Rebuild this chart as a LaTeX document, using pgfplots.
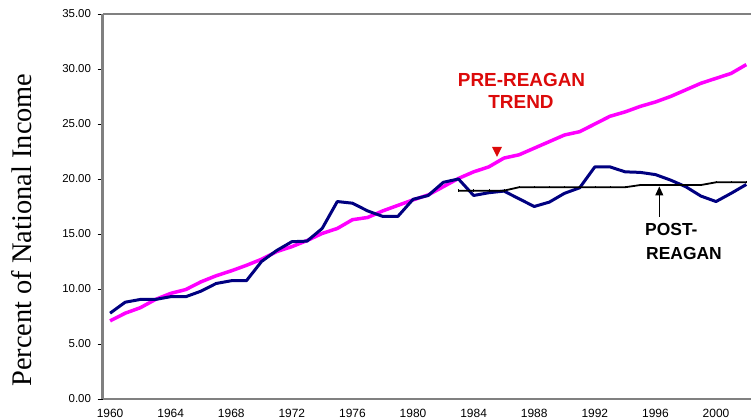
\documentclass[border=0pt]{standalone}
\usepackage{pgfplots}
\pgfplotsset{compat=1.18}
\usepackage{fontspec}
\setmainfont{Liberation Sans}
\newfontfamily\serifl{Liberation Serif}
\usetikzlibrary{arrows.meta}
\definecolor{navyb}{RGB}{0,0,128}
\definecolor{magl}{RGB}{255,0,255}
\definecolor{axgray}{RGB}{128,128,128}
\definecolor{annred}{RGB}{220,10,10}

\begin{document}
\begin{tikzpicture}
\begin{axis}[
  scale only axis,
  width=648.5bp, height=385bp,
  xmin=1959.5, xmax=2002.31,
  ymin=0, ymax=35,
  axis x line=box, axis y line=left,
  axis line style={-, draw=axgray, line width=2.5bp},
  xtick pos=left, ytick pos=left,
  tick align=outside,
  xtick={1960,1964,...,2000},
  minor xtick={1959.5,1960.5,...,2002.5},
  xtick style={draw=none},
  minor x tick style={black, line width=0.8bp},
  minor tick length=4bp,
  ytick={0,5,...,35},
  y tick style={black, line width=0.8bp},
  major tick length=5bp,
  /pgf/number format/assume math mode=true,
  xticklabel={\fontsize{12}{13}\selectfont\pgfmathprintnumber[1000 sep={}]{\tick}},
  yticklabel={\fontsize{11.5}{13}\selectfont\pgfmathprintnumber[fixed, fixed zerofill, precision=2]{\tick}},
  xticklabel style={yshift=-1.5bp},
  yticklabel style={xshift=-3bp},
  clip=true,
]
\coordinate (SW) at (rel axis cs:0,0);
\coordinate (NE) at (rel axis cs:1,1);

% Pre-Reagan trend (magenta)
\addplot[magl, line width=3.5bp, line join=round] coordinates {
(1960,7.1) (1961,7.8) (1962,8.3) (1963,9.05) (1964,9.6) (1965,9.95)
(1966,10.65) (1967,11.2) (1968,11.65) (1969,12.15) (1970,12.7) (1971,13.4)
(1972,13.85) (1973,14.4) (1974,15.05) (1975,15.5) (1976,16.3) (1977,16.5)
(1978,17.1) (1979,17.6) (1980,18.1) (1981,18.55) (1982,19.3) (1983,20.05)
(1984,20.65) (1985,21.1) (1986,21.9) (1987,22.2) (1988,22.8) (1989,23.4)
(1990,24.0) (1991,24.3) (1992,25.0) (1993,25.7) (1994,26.1) (1995,26.6)
(1996,27.0) (1997,27.5) (1998,28.1) (1999,28.7) (2000,29.15) (2001,29.6)
(2002,30.4)
};

% Actual (navy)
\addplot[navyb, line width=3bp, line join=round] coordinates {
(1960,7.8) (1961,8.8) (1962,9.05) (1963,9.05) (1964,9.3) (1965,9.3)
(1966,9.8) (1967,10.5) (1968,10.75) (1969,10.75) (1970,12.5) (1971,13.5)
(1972,14.3) (1973,14.35) (1974,15.5) (1975,17.95) (1976,17.8) (1977,17.1)
(1978,16.6) (1979,16.6) (1980,18.15) (1981,18.5) (1982,19.7) (1983,20.0)
(1984,18.5) (1985,18.75) (1986,18.9) (1987,18.2) (1988,17.5) (1989,17.9)
(1990,18.7) (1991,19.2) (1992,21.1) (1993,21.1) (1994,20.65) (1995,20.6)
(1996,20.4) (1997,19.9) (1998,19.3) (1999,18.45) (2000,17.95) (2001,18.7)
(2002,19.5)
};

% Post-Reagan (black)
\addplot[black, line width=1.8bp, mark=|, mark size=1.2bp, mark options={line width=0.5bp}] coordinates {
(1983,18.94) (1984,18.94) (1985,18.94) (1986,18.94) (1987,19.25) (1988,19.25)
(1989,19.25) (1990,19.25) (1991,19.25) (1992,19.25) (1993,19.25) (1994,19.25)
(1995,19.45) (1996,19.45) (1997,19.45) (1998,19.45) (1999,19.45) (2000,19.7)
(2001,19.7) (2002,19.7)
};
\end{axis}

% annotations (offsets in px from axis lower-left corner at px (102.5,399))
\node[anchor=base, text=annred, font=\bfseries\fontsize{19}{22}\selectfont, inner sep=0pt]
  at ([shift={(419bp,312.3bp)}]SW) {PRE-REAGAN};
\node[anchor=base, text=annred, font=\bfseries\fontsize{19}{22}\selectfont, inner sep=0pt]
  at ([shift={(418.5bp,290bp)}]SW) {TREND};
\fill[annred] ([shift={(389.5bp,252bp)}]SW) -- ([shift={(399.5bp,252bp)}]SW) -- ([shift={(394.5bp,242bp)}]SW) -- cycle;

\node[anchor=base west, font=\bfseries\fontsize{17.5}{20}\selectfont, inner sep=0pt]
  at ([shift={(542.5bp,163.3bp)}]SW) {POST-};
\node[anchor=base west, font=\bfseries\fontsize{17.5}{20}\selectfont, inner sep=0pt]
  at ([shift={(543.5bp,139.7bp)}]SW) {REAGAN};
\draw[black, line width=1bp, -{Triangle[length=9bp,width=8bp]}]
  ([shift={(556.8bp,182.3bp)}]SW) -- ([shift={(556.8bp,212.5bp)}]SW);

% y-axis label
\node[rotate=90, anchor=base, inner sep=0pt, font=\serifl\fontsize{28.5}{30}\selectfont]
  at ([shift={(-70.5bp,169bp)}]SW) {Percent of National Income};

\pgfresetboundingbox
\path ([shift={(-102.5bp,-21bp)}]SW) rectangle ([shift={(0bp,14bp)}]NE);
\end{tikzpicture}
\end{document}
